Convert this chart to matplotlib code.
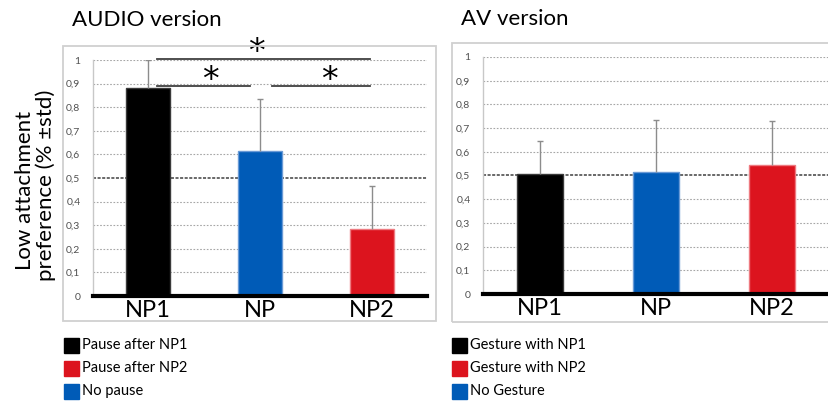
import matplotlib
matplotlib.use("Agg")
import matplotlib.pyplot as plt
from matplotlib.patches import Rectangle

plt.rcParams['font.family'] = ['Lato', 'DejaVu Sans']

# data
categories = ['NP1', 'NP', 'NP2']
audio_mean = [0.88, 0.615, 0.283]
audio_std = [0.12, 0.22, 0.185]
av_mean = [0.507, 0.516, 0.544]
av_std = [0.14, 0.22, 0.185]
bar_colors = ['#000000', '#005bb7', '#dc141e']
edge_colors = ['#3a3a3a', '#6a9ad6', '#ee7a80']
yticks = [0, 0.1, 0.2, 0.3, 0.4, 0.5, 0.6, 0.7, 0.8, 0.9, 1]
audio_legend = ['Pause after NP1', 'Pause after NP2', 'No pause']
av_legend = ['Gesture with NP1', 'Gesture with NP2', 'No Gesture']
legend_colors = ['#000000', '#dc141e', '#005bb7']

W, H = 829, 401
fig = plt.figure(figsize=(W / 100, H / 100), dpi=100)


def px(x0, y0, x1, y1):
    # pixel box -> figure fraction [left, bottom, width, height]
    return [x0 / W, 1 - y1 / H, (x1 - x0) / W, (y1 - y0) / H]


def tick_text(v):
    if v == 0 or v == 1:
        return str(v)
    return ('%.1f' % v).replace('.', ',')


def draw_panel(ax, means, stds):
    xs = range(len(categories))
    ax.set_xlim(-0.49, 2.49)
    ax.set_ylim(0, 1)
    for v in yticks[1:]:
        if v == 0.5:
            continue
        ax.axhline(v, color='#a6a6a6', lw=0.8, ls=(0, (1.5, 1.5)), zorder=0)
    ax.axhline(0.5, color='#404040', lw=1.1, ls=(0, (2, 1)), zorder=1)
    ax.bar(xs, means, width=0.4, color=bar_colors, edgecolor=edge_colors,
           linewidth=1, zorder=2)
    tops = [m + s for m, s in zip(means, stds)]
    ax.vlines(xs, means, tops, color='#8c8c8c', lw=1, zorder=3)
    ax.plot(xs, tops, ls='none', marker='_', ms=4, mew=1, color='#8c8c8c',
            zorder=3)
    ax.set_xticks(list(xs))
    ax.set_xticklabels(categories, fontsize=17)
    ax.set_yticks(yticks)
    ax.set_yticklabels([tick_text(v) for v in yticks], fontsize=7.5,
                       color='#505050')
    ax.tick_params(axis='both', length=0)
    ax.tick_params(axis='y', pad=9)
    ax.tick_params(axis='x', pad=3)
    for s in ['top', 'right']:
        ax.spines[s].set_visible(False)
    ax.spines['left'].set_color('#c8c8c8')
    ax.spines['left'].set_linewidth(1)
    ax.spines['bottom'].set_color('black')
    ax.spines['bottom'].set_linewidth(3)
    ax.spines['bottom'].set_zorder(4)


# frames around the two panels
fig.patches.append(Rectangle((63 / W, 1 - 321 / H), 373 / W, 275 / H,
                             transform=fig.transFigure, fill=False,
                             edgecolor='#d0d0d0', lw=1.3))
fig.patches.append(Rectangle((452 / W, 1 - 322 / H), 390 / W, 279 / H,
                             transform=fig.transFigure, fill=False,
                             edgecolor='#d0d0d0', lw=1.3))

ax1 = fig.add_axes(px(93, 60, 427, 296))
draw_panel(ax1, audio_mean, audio_std)
ax2 = fig.add_axes(px(483, 57, 829, 294))
draw_panel(ax2, av_mean, av_std)

# significance bars
ax1.plot([0.08, 1.98], [1.005, 1.005], color='#404040', lw=1.3, clip_on=False)
ax1.plot([0.08, 0.91], [0.89, 0.89], color='#404040', lw=1.3, clip_on=False)
ax1.plot([1.11, 1.98], [0.89, 0.89], color='#404040', lw=1.3, clip_on=False)
for sx, sy in [(0.97, 1.03), (0.56, 0.915), (1.62, 0.915)]:
    ax1.text(sx, sy, '*', fontsize=24, ha='center', va='center',
             family='DejaVu Sans', clip_on=False)

# titles
fig.text(72 / W, 1 - 20 / H, 'AUDIO version', fontsize=16, va='center')
fig.text(461 / W, 1 - 19 / H, 'AV version', fontsize=16, va='center')

# y label
fig.text(25 / W, 1 - 190 / H, 'Low attachment', fontsize=16, rotation=90,
         ha='center', va='center')
fig.text(46 / W, 1 - 185 / H, 'preference (% \u00b1std)', fontsize=16,
         rotation=90, ha='center', va='center')

# legends
rows = [345, 368, 391]
for labels, x0 in [(audio_legend, 64), (av_legend, 452)]:
    for lab, col, y in zip(labels, legend_colors, rows):
        fig.patches.append(Rectangle((x0 / W, 1 - (y + 7.5) / H), 15 / W,
                                     15 / H, transform=fig.transFigure,
                                     color=col))
        fig.text((x0 + 18) / W, 1 - y / H, lab, fontsize=10.5, va='center')

fig.savefig('out.png', dpi=100)
